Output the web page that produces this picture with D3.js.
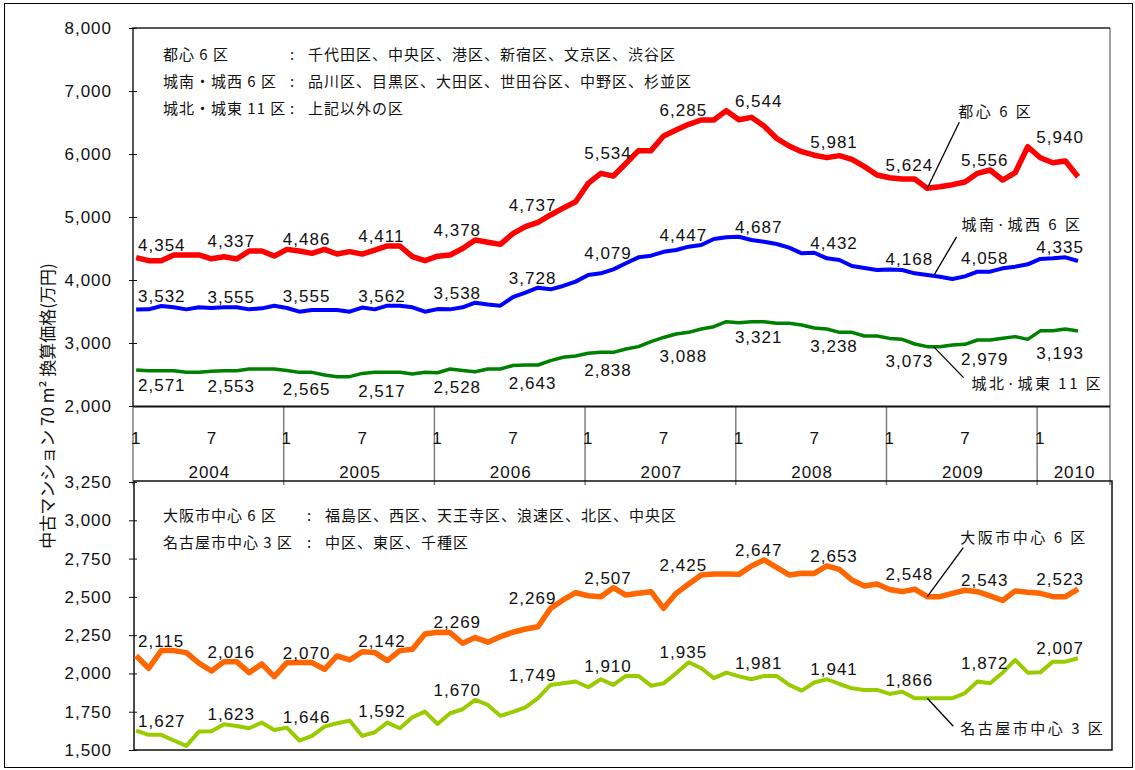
<!DOCTYPE html>
<html>
<head>
<meta charset="utf-8">
<script src="https://cdnjs.cloudflare.com/ajax/libs/d3/7.8.5/d3.min.js"></script>
<style>
  body { margin: 0; background: #fff; }
  svg { display: block; }
  .num { font-family: "Liberation Sans", Arial, sans-serif; font-size: 17px; letter-spacing: 1px; fill: #111; }
  .jp { font-family: "Noto Sans CJK JP", sans-serif; font-size: 15px; letter-spacing: 1px; fill: #111; }
  .callout { font-family: "Noto Sans CJK JP", sans-serif; font-size: 15px; letter-spacing: 2.5px; fill: #111; }
</style>
</head>
<body>
<svg id="chart" width="1135" height="770"></svg>
<script>
// monthly, Jan 2004 .. Apr 2010
var years = [2004, 2005, 2006, 2007, 2008, 2009, 2010];
var topTicks = [2000, 3000, 4000, 5000, 6000, 7000, 8000];
var bottomTicks = [1500, 1750, 2000, 2250, 2500, 2750, 3000, 3250];

// 都心6区
var toshin = [4354, 4307, 4307, 4397, 4397, 4397, 4337, 4370, 4333, 4460, 4460, 4380,
  4486, 4460, 4423, 4486, 4412, 4450, 4411, 4476, 4540, 4540, 4370, 4307,
  4378, 4397, 4500, 4635, 4600, 4566, 4737, 4847, 4915, 5032, 5140, 5243,
  5534, 5693, 5651, 5850, 6053, 6053, 6285, 6381, 6471, 6540, 6540, 6688,
  6544, 6582, 6444, 6249, 6127, 6037, 5981, 5942, 5974, 5915, 5799, 5667,
  5624, 5603, 5603, 5455, 5481, 5513, 5556, 5693, 5746, 5587, 5703, 6116,
  5940, 5862, 5889, 5640];
// 城南・城西6区
var jonan = [3532, 3534, 3587, 3566, 3534, 3566, 3555, 3566, 3566, 3534, 3550, 3592,
  3555, 3497, 3524, 3524, 3524, 3497, 3562, 3534, 3592, 3592, 3566, 3497,
  3538, 3534, 3566, 3640, 3610, 3592, 3728, 3799, 3878, 3852, 3905, 3974,
  4079, 4106, 4169, 4265, 4360, 4386, 4447, 4476, 4529, 4556, 4651, 4677,
  4687, 4635, 4608, 4571, 4513, 4423, 4432, 4344, 4317, 4222, 4190, 4159,
  4168, 4159, 4106, 4079, 4053, 4016, 4058, 4132, 4132, 4185, 4212, 4249,
  4335, 4344, 4360, 4302];
// 城北・城東11区
var johoku = [2571, 2561, 2561, 2561, 2534, 2534, 2553, 2561, 2561, 2587, 2587, 2587,
  2565, 2534, 2534, 2492, 2466, 2466, 2517, 2534, 2534, 2534, 2508, 2534,
  2528, 2587, 2565, 2545, 2587, 2587, 2643, 2651, 2651, 2720, 2773, 2794,
  2838, 2852, 2852, 2905, 2942, 3021, 3088, 3143, 3169, 3222, 3259, 3339,
  3321, 3339, 3339, 3312, 3312, 3286, 3238, 3222, 3169, 3169, 3111, 3111,
  3073, 3058, 2984, 2942, 2942, 2968, 2979, 3048, 3048, 3074, 3101, 3058,
  3193, 3196, 3222, 3190];
// 大阪市中心6区
var osaka = [2115, 2034, 2149, 2149, 2136, 2067, 2016, 2077, 2077, 2005, 2062, 1979,
  2070, 2071, 2071, 2027, 2114, 2088, 2142, 2136, 2084, 2149, 2158, 2258,
  2269, 2267, 2197, 2234, 2204, 2240, 2269, 2290, 2305, 2425, 2480, 2527,
  2507, 2501, 2560, 2512, 2523, 2534, 2425, 2523, 2584, 2643, 2650, 2650,
  2647, 2702, 2741, 2693, 2643, 2654, 2653, 2702, 2680, 2610, 2571, 2584,
  2548, 2534, 2550, 2501, 2501, 2523, 2543, 2534, 2506, 2476, 2539, 2530,
  2523, 2501, 2501, 2550];
// 名古屋市中心3区
var nagoya = [1627, 1599, 1599, 1562, 1527, 1620, 1623, 1668, 1657, 1642, 1679, 1631,
  1646, 1562, 1592, 1653, 1675, 1692, 1592, 1616, 1679, 1642, 1714, 1751,
  1670, 1740, 1766, 1827, 1794, 1723, 1749, 1779, 1838, 1925, 1936, 1947,
  1910, 1962, 1925, 1984, 1984, 1920, 1935, 2001, 2073, 2034, 1969, 2005,
  1981, 1962, 1984, 1984, 1925, 1888, 1941, 1962, 1931, 1903, 1892, 1892,
  1866, 1881, 1838, 1838, 1838, 1838, 1872, 1947, 1936, 2005, 2088, 2005,
  2007, 2077, 2077, 2099];

var labelMonths = d3.range(0, 76, 6);

var topLegend = [
  ['都心 6 区', '千代田区、中央区、港区、新宿区、文京区、渋谷区'],
  ['城南・城西 6 区', '品川区、目黒区、大田区、世田谷区、中野区、杉並区'],
  ['城北・城東 11 区', '上記以外の区']
];
var bottomLegend = [
  ['大阪市中心 6 区', '福島区、西区、天王寺区、浪速区、北区、中央区'],
  ['名古屋市中心 3 区', '中区、東区、千種区']
];

var svg = d3.select('#chart');
var fmt = d3.format(',');

var left = 133, right = 1110;
var x = d3.scaleLinear().domain([-0.25, 77.55]).range([left, right]);
var yTop = d3.scaleLinear().domain([2000, 8000]).range([406, 28]);
var yBot = d3.scaleLinear().domain([1500, 3250]).range([750, 482]);

var panels = [
  { y: yTop, ticks: topTicks, series: [
      { name: '城北·城東 11 区', values: johoku, color: '#008000', width: 3.5, above: false,
        callout: { i: 63.5, dx: 30, dy: 31, tx: 38, ty: 42 } },
      { name: '城南·城西 6 区', values: jonan, color: '#0000ff', width: 4, above: true,
        callout: { i: 63.5, dx: 23, dy: -39, tx: 28, ty: -46 } },
      { name: '都心 6 区', values: toshin, color: '#ff0000', width: 5.5, above: true,
        callout: { i: 63, dx: 32, dy: -66, tx: 31, ty: -71 } }
    ] },
  { y: yBot, ticks: bottomTicks, series: [
      { name: '名古屋市中心 3 区', values: nagoya, color: '#99cc00', width: 4, above: true,
        callout: { i: 63, dx: 26, dy: 28, tx: 33, ty: 36 } },
      { name: '大阪市中心 6 区', values: osaka, color: '#ff6600', width: 5.5, above: true,
        callout: { i: 63, dx: 36, dy: -49, tx: 33, ty: -54 } }
    ] }
];

// outer frame
svg.append('rect')
  .attr('x', 4.5).attr('y', 3.5).attr('width', 1128).attr('height', 764)
  .attr('fill', 'none').attr('stroke', '#000').attr('stroke-width', 1);

// month / year band
var dividers = years.map(function(d, k) { return x(12 * k - 0.25); });
svg.selectAll('.divider').data(dividers).enter().append('line')
  .attr('class', 'divider')
  .attr('x1', function(d) { return d; }).attr('x2', function(d) { return d; })
  .attr('y1', 406).attr('y2', 485)
  .attr('stroke', '#808080').attr('stroke-width', 1.5);
svg.append('line')
  .attr('x1', right).attr('x2', right).attr('y1', 28).attr('y2', 485)
  .attr('stroke', '#808080').attr('stroke-width', 1.5);

var monthTicks = [];
years.forEach(function(yr, k) {
  monthTicks.push({ m: 1, i: 12 * k });
  if (12 * k + 6 < 76) monthTicks.push({ m: 7, i: 12 * k + 6 });
});
svg.selectAll('.month').data(monthTicks).enter().append('text')
  .attr('class', 'num month')
  .attr('x', function(d) { return x(d.i) + (d.m === 1 ? 0 : 0.5); })
  .attr('y', 444)
  .attr('text-anchor', 'middle')
  .text(function(d) { return d.m; });

svg.selectAll('.year').data(years).enter().append('text')
  .attr('class', 'num year')
  .attr('x', function(d, k) {
    var a = x(12 * k - 0.25), b = Math.min(x(12 * k + 11.75), right);
    return (a + b) / 2 + 1;
  })
  .attr('y', 478)
  .attr('text-anchor', 'middle')
  .text(function(d) { return d; });

// panel frames
svg.append('path')
  .attr('d', 'M' + right + ',28H' + left + 'V406')
  .attr('fill', 'none').attr('stroke', '#222').attr('stroke-width', 1.5);
svg.append('line')
  .attr('x1', left).attr('x2', right).attr('y1', 406.5).attr('y2', 406.5)
  .attr('stroke', '#111').attr('stroke-width', 2);
svg.append('rect')
  .attr('x', 134).attr('y', 481).attr('width', 978).attr('height', 269)
  .attr('fill', 'none').attr('stroke', '#111').attr('stroke-width', 1.5);

panels.forEach(function(p) {
  var axis = d3.axisLeft(p.y).tickValues(p.ticks).tickFormat(fmt).tickSize(4).tickPadding(17);
  var g = svg.append('g').attr('transform', 'translate(' + left + ',0)').call(axis);
  g.select('.domain').remove();
  g.attr('font-family', null).attr('font-size', null);
  g.selectAll('.tick line').attr('x1', 4).attr('stroke', '#111');
  g.selectAll('.tick text').attr('class', 'num').attr('fill', null);

  var line = d3.line()
    .x(function(d, i) { return x(i); })
    .y(function(d) { return p.y(d); });

  p.series.forEach(function(s) {
    svg.append('path')
      .datum(s.values)
      .attr('d', line)
      .attr('fill', 'none')
      .attr('stroke', s.color)
      .attr('stroke-width', s.width)
      .attr('stroke-linejoin', 'round');

    svg.selectAll(null).data(labelMonths).enter().append('text')
      .attr('class', 'num')
      .attr('x', function(i) { return Math.max(x(i) - 4, 138); })
      .attr('y', function(i) {
        var span = s.values.slice(Math.max(0, i - 1), i + 4);
        return s.above ? p.y(d3.max(span)) - 4 : p.y(d3.min(span)) + 20;
      })
      .text(function(i) { return fmt(s.values[i]); });

    // callout
    var c = s.callout;
    var lo = Math.floor(c.i), t = c.i - lo;
    var ax = x(c.i);
    var ay = p.y(s.values[lo] * (1 - t) + s.values[Math.min(lo + 1, 75)] * t);
    svg.append('line')
      .attr('x1', ax).attr('y1', ay)
      .attr('x2', ax + c.dx).attr('y2', ay + c.dy)
      .attr('stroke', '#000').attr('stroke-width', 1.3);
    svg.append('text')
      .attr('class', 'callout')
      .attr('x', ax + c.tx).attr('y', ay + c.ty)
      .text(s.name);
  });
});

// legends
function legend(rows, x0, xc, x1, y0) {
  rows.forEach(function(r, k) {
    var yy = y0 + k * 27;
    svg.append('text').attr('class', 'jp').attr('x', x0).attr('y', yy).text(r[0]);
    svg.append('text').attr('class', 'jp').attr('x', xc).attr('y', yy).text(':');
    svg.append('text').attr('class', 'jp').attr('x', x1).attr('y', yy).text(r[1]);
  });
}
legend(topLegend, 163, 290, 308, 60);
legend(bottomLegend, 163, 307, 325, 521);

// y axis title
svg.append('text')
  .attr('transform', 'translate(54,406) rotate(-90)')
  .attr('text-anchor', 'middle')
  .attr('font-family', '"Noto Sans CJK JP", sans-serif')
  .attr('font-size', 17)
  .attr('fill', '#111')
  .text('中古マンション 70 m² 換算価格(万円)');
</script>
</body>
</html>
